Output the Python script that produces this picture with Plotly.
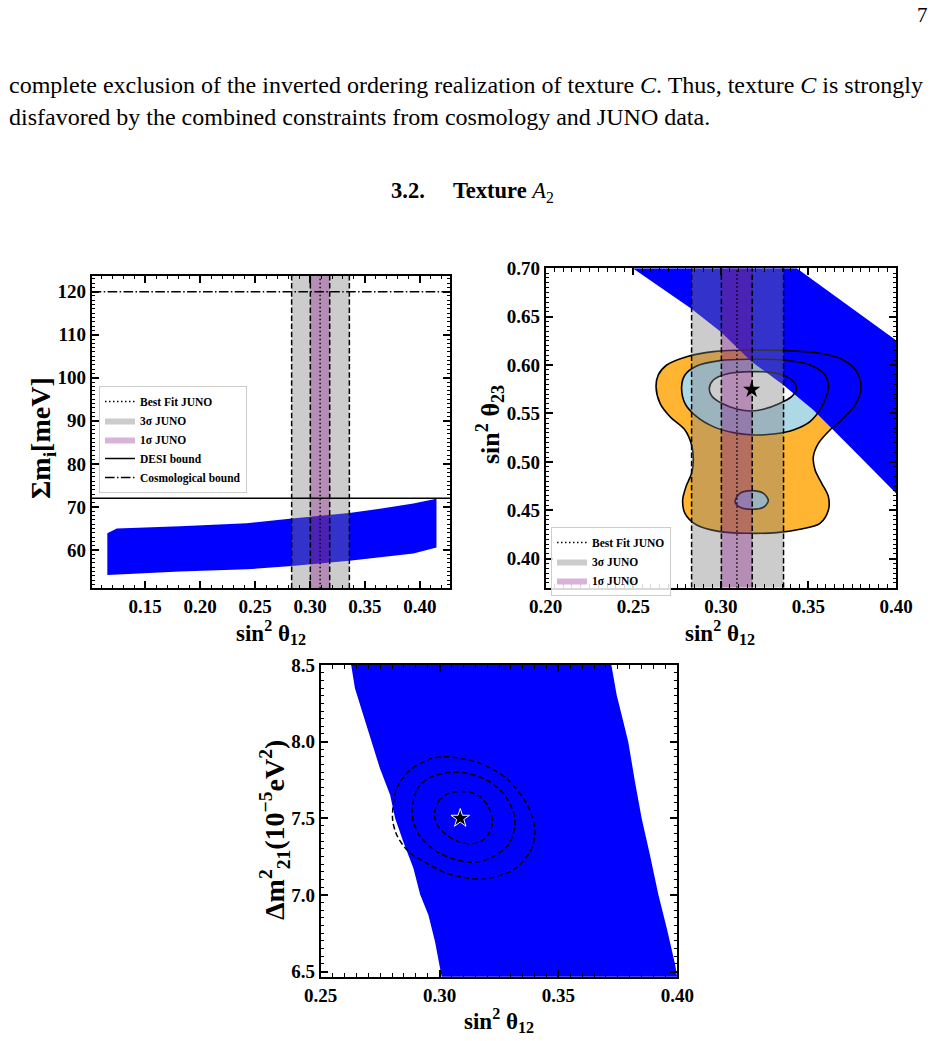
import plotly.graph_objects as go

SERIF = "Liberation Serif"

# ---------------- data ----------------
# JUNO sin^2(theta12) constraints
juno_best = 0.3092
juno_1s = [0.3003, 0.3179]
juno_3s = [0.2833, 0.3358]
desi_bound = 72.0
cosmo_bound = 120.0

# Panel 1: allowed region (Sum m_i [meV] vs sin^2 theta12)
p1_upper_x = [0.1157, 0.1243, 0.1818, 0.2424, 0.2836, 0.3090, 0.3357, 0.3636, 0.3940, 0.4150]
p1_upper_y = [63.9, 65.0, 65.5, 66.2, 67.3, 67.85, 68.6, 69.6, 70.8, 71.9]
p1_lower_x = [0.4150, 0.3940, 0.3357, 0.2836, 0.2424, 0.1818, 0.1157]
p1_lower_y = [60.6, 59.2, 57.5, 56.3, 55.5, 55.0, 54.2]

# Panel 2: allowed region (sin^2 theta23 vs sin^2 theta12), band boundary
p2_band_x = [0.2497, 0.2828, 0.2999, 0.3176, 0.3357, 0.3528, 0.3756, 0.4020, 0.4020, 0.3700, 0.3433, 0.2497]
p2_band_y = [0.7000, 0.6587, 0.6345, 0.6035, 0.5794, 0.5536, 0.5123, 0.4640, 0.6230, 0.6650, 0.7000, 0.7000]

# Panel 2: global-fit contours (3 sigma, 2 sigma, 1 sigma)
c3_x = [0.2630, 0.2653, 0.2710, 0.2795, 0.2833, 0.2843, 0.2833, 0.2801, 0.2782, 0.2795, 0.2862, 0.2995,
        0.3147, 0.3319, 0.3452, 0.3566, 0.3614, 0.3614, 0.3576, 0.3538, 0.3528, 0.3557, 0.3623, 0.3699,
        0.3772, 0.3800, 0.3775, 0.3699, 0.3566, 0.3376, 0.3166, 0.2957, 0.2805, 0.2691, 0.2643, 0.2630]
c3_y = [0.5777, 0.5605, 0.5467, 0.5330, 0.5175, 0.5020, 0.4882, 0.4744, 0.4606, 0.4469, 0.4348, 0.4279,
        0.4262, 0.4269, 0.4303, 0.4365, 0.4503, 0.4641, 0.4779, 0.4916, 0.5054, 0.5192, 0.5330, 0.5450,
        0.5605, 0.5760, 0.5932, 0.6053, 0.6122, 0.6149, 0.6156, 0.6139, 0.6087, 0.6001, 0.5898, 0.5777]
c2_x = [0.2776, 0.2795, 0.2862, 0.2995, 0.3166, 0.3357, 0.3509, 0.3595, 0.3614, 0.3576, 0.3509, 0.3414,
        0.3300, 0.3185, 0.3071, 0.2957, 0.2862, 0.2795, 0.2776]
c2_y = [0.5777, 0.5898, 0.5991, 0.6046, 0.6060, 0.6053, 0.6001, 0.5898, 0.5760, 0.5571, 0.5416, 0.5330,
        0.5288, 0.5278, 0.5302, 0.5364, 0.5467, 0.5605, 0.5777]
c2b_x = [0.3081, 0.3109, 0.3176, 0.3243, 0.3271, 0.3243, 0.3176, 0.3109, 0.3081]
c2b_y = [0.4589, 0.4675, 0.4703, 0.4675, 0.4600, 0.4531, 0.4510, 0.4531, 0.4589]
c1_x = [0.2934, 0.2957, 0.3033, 0.3176, 0.3319, 0.3404, 0.3433, 0.3404, 0.3328, 0.3243, 0.3176, 0.3090,
        0.3005, 0.2948, 0.2934]
c1_y = [0.5760, 0.5846, 0.5908, 0.5932, 0.5915, 0.5846, 0.5760, 0.5674, 0.5598, 0.5543, 0.5526, 0.5546,
        0.5605, 0.5681, 0.5760]
p2_star = (0.3176, 0.5747)

# Panel 3: allowed region (Delta m^2_21 vs sin^2 theta12)
p3_left_x = [0.2623, 0.2644, 0.2679, 0.2715, 0.2749, 0.2792, 0.2813, 0.2847, 0.2890, 0.2918, 0.2953, 0.2981, 0.3002, 0.3012]
p3_left_y = [8.55, 8.348, 8.174, 7.996, 7.826, 7.652, 7.500, 7.348, 7.174, 7.004, 6.869, 6.695, 6.510, 6.44]
p3_right_x = [0.4002, 0.3991, 0.3956, 0.3920, 0.3885, 0.3850, 0.3822, 0.3794, 0.3773, 0.3745, 0.3717]
p3_right_y = [6.44, 6.545, 6.782, 7.004, 7.261, 7.500, 7.739, 7.996, 8.130, 8.304, 8.55]
# Panel 3: dashed contours
d1_x = [0.2978, 0.2995, 0.3030, 0.3072, 0.3128, 0.3170, 0.3205, 0.3223, 0.3212, 0.3177, 0.3128, 0.3079, 0.3030, 0.2995, 0.2978]
d1_y = [7.522, 7.609, 7.657, 7.674, 7.670, 7.641, 7.576, 7.478, 7.413, 7.352, 7.333, 7.348, 7.391, 7.446, 7.522]
d2_x = [0.2885, 0.2904, 0.2953, 0.3044, 0.3114, 0.3198, 0.3268, 0.3310, 0.3317, 0.3289, 0.3226, 0.3149, 0.3072, 0.2988, 0.2918, 0.2890, 0.2885]
d2_y = [7.565, 7.685, 7.761, 7.800, 7.794, 7.750, 7.663, 7.544, 7.446, 7.326, 7.250, 7.213, 7.228, 7.283, 7.381, 7.478, 7.565]
d3_x = [0.2802, 0.2820, 0.2876, 0.2960, 0.3023, 0.3086, 0.3170, 0.3282, 0.3373, 0.3402, 0.3381, 0.3310, 0.3191, 0.3121, 0.3030, 0.2946, 0.2869, 0.2820, 0.2802]
d3_y = [7.500, 7.696, 7.815, 7.887, 7.902, 7.891, 7.859, 7.761, 7.576, 7.413, 7.283, 7.163, 7.104, 7.109, 7.141, 7.207, 7.283, 7.391, 7.500]
p3_star = (0.3087, 7.50)

# axis ranges
r1x, r1y = [0.1015, 0.4273], [51.1, 123.7]
r2x, r2y = [0.20, 0.40], [0.370, 0.70]
r3x, r3y = [0.25, 0.40], [6.467, 8.5]

BLUE = "#0000ff"
ORANGE = "#FFB432"
LIGHTBLUE = "#ADD8E6"
GRAY = "rgba(128,128,128,0.4)"
PURPLE = "rgba(128,0,128,0.3)"
DASH = "5.5px,2.6px"
DOT = "1.5px,2.5px"
DASHDOT = "9.6px,2.4px,1.5px,2.4px"

fig = go.Figure()

def juno_bands(xa, ya, yr, legend, showleg):
    lo, hi = yr
    fig.add_trace(go.Scatter(x=[juno_3s[0], juno_3s[1], juno_3s[1], juno_3s[0], juno_3s[0]],
                             y=[lo, lo, hi, hi, lo], mode="lines", fill="toself", fillcolor=GRAY,
                             line=dict(width=0), name="3σ JUNO", legend=legend, legendrank=2,
                             showlegend=showleg, xaxis=xa, yaxis=ya, hoverinfo="skip"))
    fig.add_trace(go.Scatter(x=[juno_1s[0], juno_1s[1], juno_1s[1], juno_1s[0], juno_1s[0]],
                             y=[lo, lo, hi, hi, lo], mode="lines", fill="toself", fillcolor=PURPLE,
                             line=dict(width=0), name="1σ JUNO", legend=legend, legendrank=3,
                             showlegend=showleg, xaxis=xa, yaxis=ya, hoverinfo="skip"))
    for xv in juno_3s + juno_1s:
        fig.add_trace(go.Scatter(x=[xv, xv], y=[lo, hi], mode="lines",
                                 line=dict(color="black", width=1.5, dash=DASH),
                                 showlegend=False, xaxis=xa, yaxis=ya, hoverinfo="skip"))
    fig.add_trace(go.Scatter(x=[juno_best, juno_best], y=[lo, hi], mode="lines",
                             line=dict(color="black", width=1.4, dash=DOT),
                             name="Best Fit JUNO", legend=legend, legendrank=1,
                             showlegend=showleg, xaxis=xa, yaxis=ya, hoverinfo="skip"))

# ---------- Panel 1 ----------
fig.add_trace(go.Scatter(x=p1_upper_x + p1_lower_x + [p1_upper_x[0]],
                         y=p1_upper_y + p1_lower_y + [p1_upper_y[0]],
                         mode="lines", fill="toself", fillcolor=BLUE, line=dict(width=0, color=BLUE),
                         showlegend=False, xaxis="x", yaxis="y"))
juno_bands("x", "y", r1y, "legend", True)
fig.add_trace(go.Scatter(x=r1x, y=[desi_bound, desi_bound], mode="lines",
                         line=dict(color="black", width=1.5), name="DESI bound",
                         legend="legend", legendrank=4, xaxis="x", yaxis="y"))
fig.add_trace(go.Scatter(x=r1x, y=[cosmo_bound, cosmo_bound], mode="lines",
                         line=dict(color="black", width=1.5, dash=DASHDOT), name="Cosmological bound",
                         legend="legend", legendrank=5, xaxis="x", yaxis="y"))

# ---------- Panel 2 ----------
for cx, cy, col in [(c3_x, c3_y, ORANGE), (c2_x, c2_y, LIGHTBLUE), (c2b_x, c2b_y, LIGHTBLUE), (c1_x, c1_y, "white")]:
    fig.add_trace(go.Scatter(x=cx, y=cy, mode="lines", fill="toself", fillcolor=col,
                             line=dict(width=0, shape="spline", smoothing=0.9),
                             showlegend=False, xaxis="x2", yaxis="y2", hoverinfo="skip"))
fig.add_trace(go.Scatter(x=p2_band_x, y=p2_band_y, mode="lines", fill="toself", fillcolor=BLUE,
                         line=dict(width=0), showlegend=False, xaxis="x2", yaxis="y2"))
for cx, cy in [(c3_x, c3_y), (c2_x, c2_y), (c2b_x, c2b_y), (c1_x, c1_y)]:
    fig.add_trace(go.Scatter(x=cx, y=cy, mode="lines",
                             line=dict(color="black", width=1.6, shape="spline", smoothing=0.9),
                             showlegend=False, xaxis="x2", yaxis="y2", hoverinfo="skip"))
juno_bands("x2", "y2", r2y, "legend2", True)
fig.add_trace(go.Scatter(x=[p2_star[0]], y=[p2_star[1]], mode="markers",
                         marker=dict(symbol="star", size=13, color="black"),
                         showlegend=False, xaxis="x2", yaxis="y2"))

# ---------- Panel 3 ----------
fig.add_trace(go.Scatter(x=p3_left_x + p3_right_x + [p3_left_x[0]],
                         y=p3_left_y + p3_right_y + [p3_left_y[0]],
                         mode="lines", fill="toself", fillcolor=BLUE, line=dict(width=0, color=BLUE),
                         showlegend=False, xaxis="x3", yaxis="y3"))
for cx, cy in [(d1_x, d1_y), (d2_x, d2_y), (d3_x, d3_y)]:
    fig.add_trace(go.Scatter(x=cx, y=cy, mode="lines",
                             line=dict(color="black", width=1.5, dash="5.5px,3px", shape="spline", smoothing=0.8),
                             showlegend=False, xaxis="x3", yaxis="y3", hoverinfo="skip"))
fig.add_trace(go.Scatter(x=[p3_star[0]], y=[p3_star[1]], mode="markers",
                         marker=dict(symbol="star", size=14, color="black", line=dict(color="white", width=1)),
                         showlegend=False, xaxis="x3", yaxis="y3"))

W, H = 945, 1041

def px2x(p):
    return p / W

def px2y(p):
    return 1 - p / H

def ax(rng, dom, anchor, dtick, minor_dtick, fmt, tick0=None):
    d = dict(range=rng, domain=dom, anchor=anchor, showline=True, linewidth=2, linecolor="black",
             mirror="allticks", ticks="inside", ticklen=7, tickwidth=1.5, tickcolor="black",
             showgrid=False, zeroline=False, dtick=dtick, tickformat=fmt, automargin=False,
             tickfont=dict(family=SERIF, size=19, color="black", weight="bold"),
             minor=dict(ticks="inside", ticklen=3.5, tickwidth=1, tickcolor="black", dtick=minor_dtick,
                        showgrid=False))
    if tick0 is not None:
        d["tick0"] = tick0
    return d

legend_common = dict(xanchor="left", yanchor="top", bgcolor="rgba(255,255,255,0.85)",
                     bordercolor="#cccccc", borderwidth=1, traceorder="normal",
                     font=dict(family=SERIF, size=11.5, color="black", weight="bold"),
                     itemwidth=30, tracegroupgap=0)

fig.update_layout(
    template="none",
    width=W, height=H, margin=dict(l=0, r=0, t=0, b=0, pad=0, autoexpand=False),
    paper_bgcolor="white", plot_bgcolor="white",
    xaxis=ax(r1x, [px2x(91.7), px2x(450)], "y", 0.05, 0.01, ".2f", 0.0),
    yaxis=ax(r1y, [px2y(588.3), px2y(275.7)], "x", 10, 1, "d", 0),
    xaxis2=ax(r2x, [px2x(545.7), px2x(896)], "y2", 0.05, 0.005, ".2f", 0.0),
    yaxis2=ax(r2y, [px2y(587.7), px2y(268.3)], "x2", 0.05, 0.005, ".2f", 0.0),
    xaxis3=ax(r3x, [px2x(320.7), px2x(677.3)], "y3", 0.05, 0.005, ".2f", 0.0),
    yaxis3=ax(r3y, [px2y(976.7), px2y(665)], "x3", 0.5, 0.05, ".1f", 0.0),
    legend=dict(x=px2x(99), y=px2y(386), **legend_common),
    legend2=dict(x=px2x(551), y=px2y(527), **legend_common),
)

xt_font = dict(family=SERIF, size=23, color="black", weight="bold")
yt_font = dict(family=SERIF, size=28, color="black", weight="bold")
body_font = dict(family=SERIF, size=24, color="black")
annots = [
    dict(text="sin<sup>2</sup> θ<sub>12</sub>", x=px2x(271), y=px2y(632), font=xt_font),
    dict(text="Σm<sub>i</sub>[meV]", x=px2x(42), y=px2y(438), font=yt_font, textangle=-90),
    dict(text="sin<sup>2</sup> θ<sub>12</sub>", x=px2x(720), y=px2y(632), font=xt_font),
    dict(text="sin<sup>2</sup> θ<sub>23</sub>", x=px2x(490), y=px2y(425),
         font=dict(family=SERIF, size=26, color="black", weight="bold"), textangle=-90),
    dict(text="sin<sup>2</sup> θ<sub>12</sub>", x=px2x(499), y=px2y(1020), font=xt_font),
    dict(text="Δm<sup>2</sup><sub>21</sub>(10<sup>−5</sup>eV<sup>2</sup>)", x=px2x(274), y=px2y(830),
         font=yt_font, textangle=-90),
    dict(text="7", x=px2x(922), y=px2y(15), font=dict(family=SERIF, size=21, color="black")),
    dict(text="complete exclusion of the inverted ordering realization of texture <i>C</i>. Thus, texture <i>C</i> is strongly",
         x=px2x(7), y=px2y(85), xanchor="left", font=body_font),
    dict(text="disfavored by the combined constraints from cosmology and JUNO data.",
         x=px2x(7), y=px2y(117), xanchor="left", font=body_font),
    dict(text="<b>3.2.</b>\u00a0\u00a0\u00a0\u00a0\u00a0<b>Texture</b> <i>A</i><sub>2</sub>", x=px2x(472), y=px2y(192),
         font=dict(family=SERIF, size=22.5, color="black")),
]
for a in annots:
    a.setdefault("xanchor", "center")
    a.setdefault("yanchor", "middle")
    fig.add_annotation(xref="paper", yref="paper", showarrow=False, **a)

fig.write_html("out.html")
